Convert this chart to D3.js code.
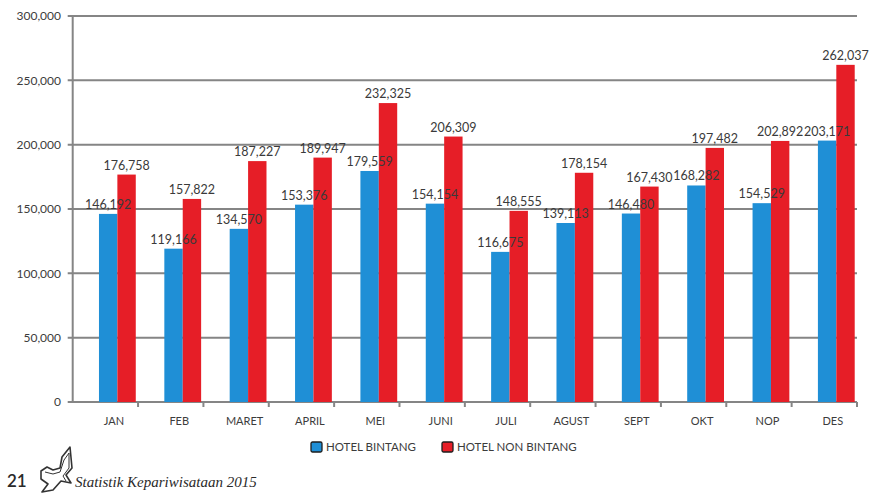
<!DOCTYPE html>
<html>
<head>
<meta charset="utf-8">
<script src="https://cdn.jsdelivr.net/npm/d3@7/dist/d3.min.js"></script>
<style>
  html, body { margin: 0; padding: 0; background: #fff; }
  svg { display: block; }
  text { font-family: Lato, "Open Sans", sans-serif; }
</style>
</head>
<body>
<svg id="chart" width="870" height="494"></svg>
<script>
// Monthly guests, 2015
const months = ["JAN","FEB","MARET","APRIL","MEI","JUNI","JULI","AGUST","SEPT","OKT","NOP","DES"];
const seriesNames = ["HOTEL BINTANG", "HOTEL NON BINTANG"];
const hotelBintang = [146192,119166,134570,153376,179559,154154,116675,139113,146480,168282,154529,203171];
const hotelNonBintang = [176758,157822,187227,189947,232325,206309,148555,178154,167430,197482,202892,262037];
const yTicks = [0,50000,100000,150000,200000,250000,300000];

const colors = ["#1f8fd6", "#e61e27"];
const values = [hotelBintang, hotelNonBintang];

const svg = d3.select("#chart");
const plotLeft = 72.7, plotRight = 857, plotTop = 16, plotBottom = 402;

const x0 = d3.scaleBand().domain(months).range([plotLeft, plotRight]).padding(0);
const bw = x0.bandwidth();
// bars sit toward the right side of each category slot
const x1 = d3.scaleBand().domain(seriesNames).range([bw * 0.402, bw * 0.965]).padding(0);
const y = d3.scaleLinear().domain([0, 300000]).range([plotBottom, plotTop]);

const fmt = d3.format(",");

// horizontal gridlines with left tick marks
svg.append("g").selectAll("line")
  .data(yTicks)
  .join("line")
  .attr("x1", plotLeft - 5)
  .attr("x2", plotRight)
  .attr("y1", d => y(d))
  .attr("y2", d => y(d))
  .attr("stroke", "#858585")
  .attr("stroke-width", 2);

// y tick labels
svg.append("g").selectAll("text")
  .data(yTicks)
  .join("text")
  .attr("x", 61)
  .attr("y", d => y(d))
  .attr("dy", "0.35em")
  .attr("text-anchor", "end")
  .attr("font-size", 12)
  .attr("fill", "#3c3c3c")
  .text(d => fmt(d));

// bars
const groups = svg.append("g").selectAll("g")
  .data(months)
  .join("g")
  .attr("transform", d => `translate(${x0(d)},0)`);

groups.selectAll("rect")
  .data((m, i) => seriesNames.map((s, k) => ({ s, k, v: values[k][i] })))
  .join("rect")
  .attr("x", d => x1(d.s))
  .attr("width", x1.bandwidth())
  .attr("y", d => y(d.v))
  .attr("height", d => y(0) - y(d.v))
  .attr("fill", d => colors[d.k]);

// value labels above each bar
groups.selectAll("text")
  .data((m, i) => seriesNames.map((s, k) => ({ s, k, v: values[k][i] })))
  .join("text")
  .attr("x", d => x1(d.s) + x1.bandwidth() / 2)
  .attr("y", d => y(d.v) - 5)
  .attr("text-anchor", "middle")
  .attr("font-size", 12.5)
  .attr("fill", "#3a3a3a")
  .text(d => fmt(d.v));

// y axis line
svg.append("line")
  .attr("x1", plotLeft).attr("x2", plotLeft)
  .attr("y1", plotTop).attr("y2", plotBottom)
  .attr("stroke", "#858585").attr("stroke-width", 2);

// x axis tick marks at category boundaries
const bounds = months.map(m => x0(m) + bw);
svg.append("g").selectAll("line")
  .data(bounds)
  .join("line")
  .attr("x1", d => d).attr("x2", d => d)
  .attr("y1", plotBottom).attr("y2", plotBottom + 5)
  .attr("stroke", "#858585").attr("stroke-width", 2);

// category labels
svg.append("g").selectAll("text")
  .data(months)
  .join("text")
  .attr("x", d => x0(d) + bw * 0.63)
  .attr("y", 425)
  .attr("text-anchor", "middle")
  .attr("font-size", 11)
  .attr("fill", "#3c3c3c")
  .text(d => d);

// legend
const legendPos = [311, 442];
const legend = svg.append("g").selectAll("g")
  .data(seriesNames)
  .join("g")
  .attr("transform", (d, i) => `translate(${legendPos[i]},442)`);
legend.append("rect")
  .attr("width", 11).attr("height", 10)
  .attr("rx", 1.5)
  .attr("fill", (d, i) => colors[i])
  .attr("stroke", "#1e1e1e").attr("stroke-width", 1.3);
legend.append("text")
  .attr("x", 15).attr("y", 5)
  .attr("dy", "0.35em")
  .attr("font-size", 11.5)
  .attr("fill", "#3c3c3c")
  .text(d => d);

// footer: page number, emblem and publication title
svg.append("text")
  .attr("x", 7).attr("y", 487)
  .attr("font-size", 17)
  .attr("font-weight", "600")
  .attr("fill", "#2a2a2a")
  .text("21");

const emblem = "M 41 471 L 47 467 L 53 470 L 60 468 L 62 457 L 70 447 L 72 468 L 66 475 L 71 483 L 61 481 L 53 490 L 42 492 L 48 484 L 41 479 Z";
svg.append("path")
  .attr("d", emblem)
  .attr("fill", "none")
  .attr("stroke", "#333")
  .attr("stroke-width", 1.6)
  .attr("stroke-linejoin", "round");
svg.append("path")
  .attr("d", "M 45 472 L 53 474 L 60 472 L 64 460 L 69 453 L 69 468 L 63 476 L 66 481")
  .attr("fill", "none")
  .attr("stroke", "#333")
  .attr("stroke-width", 1);

svg.append("text")
  .attr("x", 75).attr("y", 487)
  .style("font-family", "'Liberation Serif', 'DejaVu Serif', serif")
  .style("font-style", "italic")
  .attr("font-size", 15)
  .attr("fill", "#2a2a2a")
  .text("Statistik Kepariwisataan 2015");
</script>
</body>
</html>
